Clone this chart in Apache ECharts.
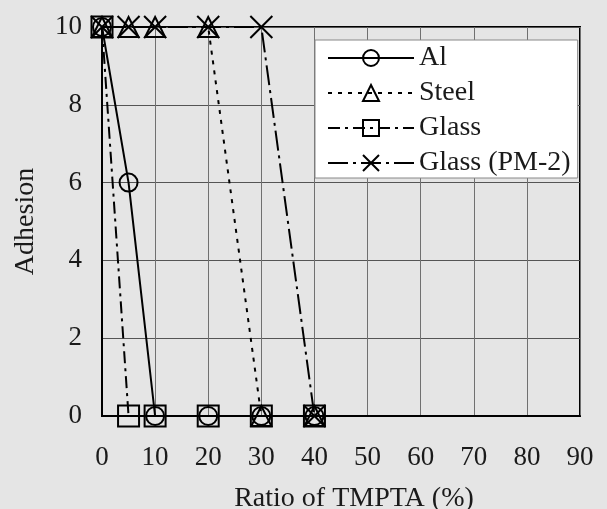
<!DOCTYPE html>
<html><head><meta charset="utf-8">
<script src="https://cdn.jsdelivr.net/npm/echarts@6/dist/echarts.min.js"></script>
<style>html,body{margin:0;padding:0;background:#e5e5e5;}#c{width:607px;height:509px;}</style>
</head><body><div id="c"></div>
<script>
const xValues = [0, 5, 10, 20, 30, 40];
const al = [10, 6, 0, 0, 0, 0];
const steel = [10, 10, 10, 10, 0, 0];
const glass = [10, 0, 0, 0, 0, 0];
const glassPM2 = [10, 10, 10, 10, 10, 0];
const seriesNames = ['Al', 'Steel', 'Glass', 'Glass (PM-2)'];
const xTitle = 'Ratio of TMPTA (%)';
const yTitle = 'Adhesion';

const FONT = '"Liberation Serif", "Times New Roman", serif';
const pairs = arr => xValues.map((x, i) => [x, arr[i]]);
const hollow = {color: 'rgba(0,0,0,0)', borderColor: '#000', borderWidth: 2};
const X_PATH = 'path://M0,0L20,20M20,0L0,20';

const chart = echarts.init(document.getElementById('c'));
chart.setOption({
  backgroundColor: '#e5e5e5',
  animation: false,
  grid: {left: 102, right: 27, top: 27, bottom: 93, show: true, borderColor: '#000', borderWidth: 2,
         backgroundColor: 'transparent', containLabel: false, outerBoundsMode: 'none'},
  xAxis: {
    type: 'value', min: 0, max: 90, interval: 10,
    name: xTitle, nameLocation: 'middle', nameGap: 69,
    nameTextStyle: {fontFamily: FONT, fontSize: 28, color: '#1a1a1a', padding: [0, 0, 0, 26]},
    axisLine: {show: true, lineStyle: {color: '#000', width: 2}},
    axisTick: {show: false},
    axisLabel: {fontFamily: FONT, fontSize: 27, color: '#1a1a1a', margin: 28},
    splitLine: {show: true, lineStyle: {color: '#707070', width: 1}}
  },
  yAxis: {
    type: 'value', min: 0, max: 10, interval: 2,
    name: yTitle, nameLocation: 'middle', nameGap: 62,
    nameTextStyle: {fontFamily: FONT, fontSize: 28, color: '#1a1a1a'},
    axisLine: {show: true, lineStyle: {color: '#000', width: 2}},
    axisTick: {show: false},
    axisLabel: {fontFamily: FONT, fontSize: 27, color: '#1a1a1a', margin: 20},
    splitLine: {show: true, lineStyle: {color: '#555', width: 1}}
  },
  legend: {
    orient: 'vertical', left: 315, top: 40,
    padding: [4, 7, 1, 12],
    itemWidth: 86, itemHeight: 20, itemGap: 7, itemTextGap: 7,
    backgroundColor: '#fff', borderColor: '#888', borderWidth: 1,
    textStyle: {fontFamily: FONT, fontSize: 28, color: '#1a1a1a', lineHeight: 25},
    data: seriesNames
  },
  series: [
    {name: seriesNames[0], type: 'line', data: pairs(al), clip: false,
     symbol: 'circle', symbolSize: 18, itemStyle: hollow,
     lineStyle: {color: '#000', width: 2, type: 'solid'}},
    {name: seriesNames[1], type: 'line', data: pairs(steel), clip: false,
     symbol: 'triangle', symbolSize: 20, itemStyle: hollow,
     lineStyle: {color: '#000', width: 2, type: [4, 6]}},
    {name: seriesNames[2], type: 'line', data: pairs(glass), clip: false,
     symbol: 'rect', symbolSize: 21, itemStyle: hollow,
     lineStyle: {color: '#000', width: 2, type: [12, 5, 3, 5]}},
    {name: seriesNames[3], type: 'line', data: pairs(glassPM2), clip: false,
     symbol: X_PATH, symbolSize: 22, itemStyle: hollow,
     lineStyle: {color: '#000', width: 2, type: [20, 5, 3, 5]}}
  ]
});
</script></body></html>
